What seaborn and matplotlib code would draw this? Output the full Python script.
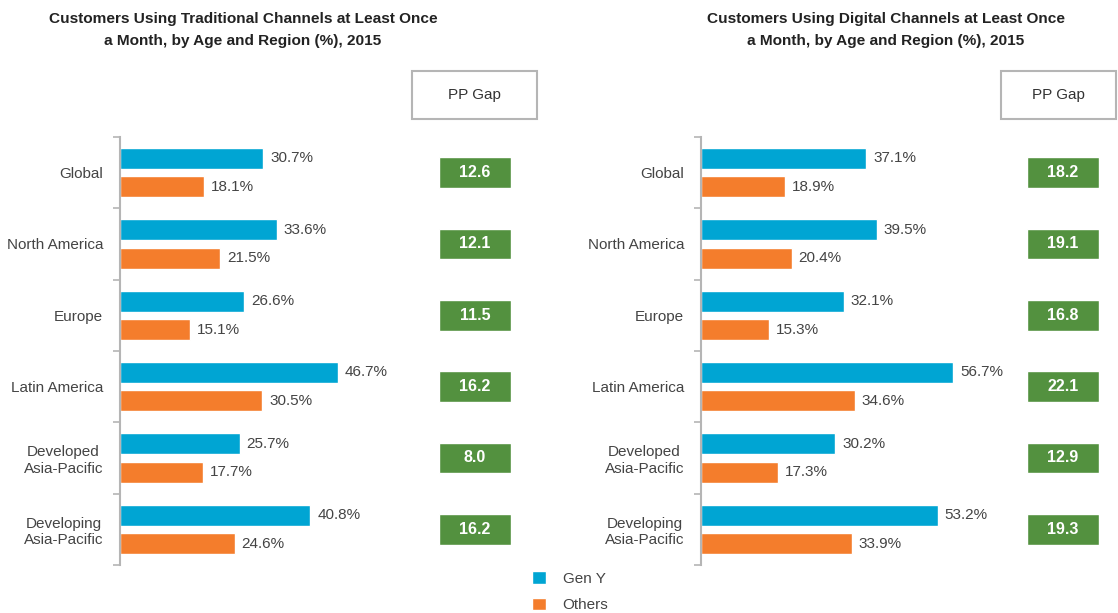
import numpy as np
import pandas as pd
import matplotlib
matplotlib.use("Agg")
import matplotlib.pyplot as plt
from matplotlib.patches import Rectangle
from matplotlib.ticker import FixedLocator
import seaborn as sns

# -------------------- DATA --------------------
regions = ["Global", "North America", "Europe", "Latin America",
           "Developed\nAsia-Pacific", "Developing\nAsia-Pacific"]
series = ["Gen Y", "Others"]

trad_geny = [30.7, 33.6, 26.6, 46.7, 25.7, 40.8]
trad_others = [18.1, 21.5, 15.1, 30.5, 17.7, 24.6]
trad_gap = [12.6, 12.1, 11.5, 16.2, 8.0, 16.2]

dig_geny = [37.1, 39.5, 32.1, 56.7, 30.2, 53.2]
dig_others = [18.9, 20.4, 15.3, 34.6, 17.3, 33.9]
dig_gap = [18.2, 19.1, 16.8, 22.1, 12.9, 19.3]

titles = ["Customers Using Traditional Channels at Least Once\na Month, by Age and Region (%), 2015",
          "Customers Using Digital Channels at Least Once\na Month, by Age and Region (%), 2015"]

BLUE = "#00a5d3"
ORANGE = "#f47d2c"
GREEN = "#53913f"
TXT = "#444444"
GREY = "#b5b5b5"

W, H = 1118, 613


def long_df(geny, others):
    return pd.DataFrame({
        "region": regions * 2,
        "group": [series[0]] * len(regions) + [series[1]] * len(regions),
        "value": geny + others,
    })


def px_axes(fig, x0, y0, x1, y1):
    # pixel box (top-left origin) -> figure axes
    return fig.add_axes([x0 / W, 1 - y1 / H, (x1 - x0) / W, (y1 - y0) / H])


sns.set_theme(style="white")
plt.rcParams["font.family"] = ["Liberation Sans", "DejaVu Sans"]

fig = plt.figure(figsize=(W / 100, H / 100), dpi=100)
fig.patch.set_facecolor("white")

panels = [
    dict(geny=trad_geny, others=trad_others, gap=trad_gap, bar_x=(120, 430), xmax=66.5,
         gap_x=(439, 511), box_x=(412, 537), title_x=243),
    dict(geny=dig_geny, others=dig_others, gap=dig_gap, bar_x=(701, 1000), xmax=67.2,
         gap_x=(1027, 1099), box_x=(1001, 1116), title_x=886),
]

Y0, Y1 = 137, 565
handles = labels = None

for i, p in enumerate(panels):
    df = long_df(p["geny"], p["others"])
    ax = px_axes(fig, p["bar_x"][0], Y0, p["bar_x"][1], Y1)
    sns.barplot(data=df, y="region", x="value", hue="group", orient="h",
                palette=[BLUE, ORANGE], width=0.8, gap=0.265, ax=ax, saturation=1)
    ax.set_xlim(0, p["xmax"])
    ax.set_ylim(len(regions) - 0.5, -0.5)
    for c in ax.containers:
        ax.bar_label(c, fmt="%.1f%%", padding=5, fontsize=11, color=TXT)
    if i == 0:
        handles, labels = ax.get_legend_handles_labels()
    ax.get_legend().remove()
    ax.set_xlabel("")
    ax.set_ylabel("")
    ax.set_xticks([])
    for s in ["top", "right", "bottom"]:
        ax.spines[s].set_visible(False)
    ax.spines["left"].set_color(GREY)
    ax.spines["left"].set_linewidth(1.5)
    ax.tick_params(axis="y", which="major", length=0, pad=12, labelsize=11, labelcolor=TXT)
    ax.yaxis.set_minor_locator(FixedLocator(np.arange(-0.5, len(regions), 1.0)))
    ax.tick_params(axis="y", which="minor", length=5, width=1.2, color=GREY, left=True)
    for t in ax.get_yticklabels():
        t.set_multialignment("center")

    # PP gap boxes
    gx = px_axes(fig, p["gap_x"][0], Y0, p["gap_x"][1], Y1)
    gx.barh(np.arange(len(regions)), [1] * len(regions), height=0.43, color=GREEN)
    gx.set_xlim(0, 1)
    gx.set_ylim(len(regions) - 0.5, -0.5)
    gx.axis("off")
    for k, v in enumerate(p["gap"]):
        gx.text(0.5, k, f"{v:.1f}", ha="center", va="center", color="white",
                fontsize=11.5, fontweight="bold")

    # header box
    bx0, bx1 = p["box_x"]
    fig.patches.append(Rectangle((bx0 / W, 1 - 119 / H), (bx1 - bx0) / W, 48 / H,
                                 transform=fig.transFigure, fill=False,
                                 edgecolor=GREY, linewidth=1.5))
    fig.text((bx0 + bx1) / 2 / W, 1 - 95 / H, "PP Gap", ha="center", va="center",
             fontsize=11, color="#333333")

    fig.text(p["title_x"] / W, 1 - 30 / H, titles[i], ha="center", va="center",
             fontsize=11.1, fontweight="bold", color="#222222", linespacing=1.65)

fig.legend(handles, labels, loc="upper left", bbox_to_anchor=(526 / W, 1 - 565 / H),
           frameon=False, handlelength=0.9, handleheight=0.9, handletextpad=1.1,
           labelspacing=0.78, fontsize=11, labelcolor=TXT, borderaxespad=0)

fig.savefig("out.png", dpi=100)
